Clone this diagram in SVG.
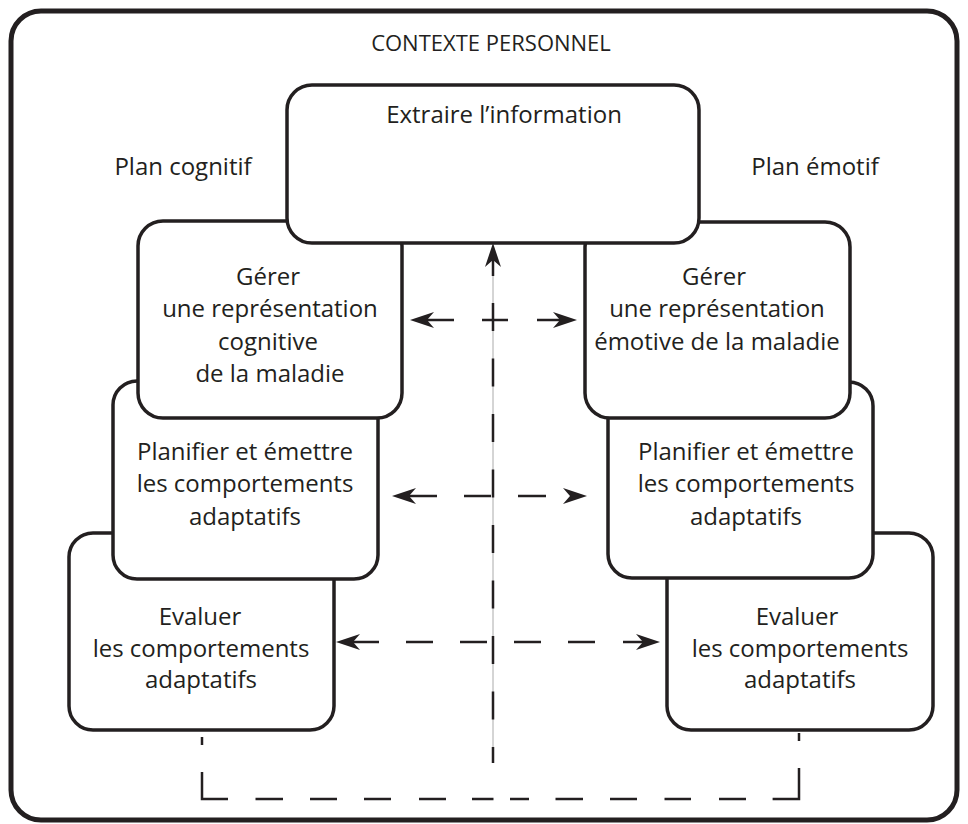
<svg xmlns="http://www.w3.org/2000/svg" width="968" height="824" viewBox="0 0 968 824">
<style>
.box{fill:#fff;stroke:#231f20;stroke-width:3.5}
.t{font-family:"Open Sans","Noto Sans",sans-serif;font-size:24px;fill:#231f20;text-anchor:middle}
.d{stroke:#231f20;stroke-width:2.5;fill:none}
.h{fill:#231f20}
</style>
<rect width="968" height="824" fill="#fff"/>
<rect id="frame" x="11" y="11" width="946" height="809" rx="30" fill="none" stroke="#231f20" stroke-width="5"/>
<text class="t" x="491" y="51" style="font-size:22px">CONTEXTE PERSONNEL</text>
<text class="t" x="183" y="175">Plan cognitif</text>
<text class="t" x="815" y="175">Plan émotif</text>

<g id="eval-left">
<rect class="box" x="69" y="533" width="265" height="197" rx="24"/>
<text class="t" x="200" y="625">Evaluer</text>
<text class="t" x="201" y="657">les comportements</text>
<text class="t" x="201" y="688">adaptatifs</text>
</g>
<g id="eval-right">
<rect class="box" x="667" y="533" width="266" height="197" rx="24"/>
<text class="t" x="797" y="625">Evaluer</text>
<text class="t" x="800" y="657">les comportements</text>
<text class="t" x="800" y="688">adaptatifs</text>
</g>
<g id="plan-left">
<rect class="box" x="113" y="381" width="265" height="198" rx="24"/>
<text class="t" x="245" y="460">Planifier et émettre</text>
<text class="t" x="245" y="492">les comportements</text>
<text class="t" x="245" y="525">adaptatifs</text>
</g>
<g id="plan-right">
<rect class="box" x="608" y="382" width="265" height="196" rx="24"/>
<text class="t" x="746" y="460">Planifier et émettre</text>
<text class="t" x="746" y="492">les comportements</text>
<text class="t" x="746" y="525">adaptatifs</text>
</g>
<g id="gerer-left">
<rect class="box" x="138" y="221" width="264" height="197" rx="25"/>
<text class="t" x="268" y="285">Gérer</text>
<text class="t" x="270" y="317">une représentation</text>
<text class="t" x="268" y="350">cognitive</text>
<text class="t" x="270" y="382">de la maladie</text>
</g>
<g id="gerer-right">
<rect class="box" x="585" y="222" width="265" height="196" rx="25"/>
<text class="t" x="714" y="285">Gérer</text>
<text class="t" x="717" y="317">une représentation</text>
<text class="t" x="717" y="350">émotive de la maladie</text>
</g>
<g id="extraire">
<rect class="box" x="287" y="85" width="412" height="158" rx="25"/>
<text class="t" x="504" y="123">Extraire l’information</text>
</g>

<g id="connectors">
<line x1="493" y1="250" x2="493" y2="763" stroke="#aaa" stroke-width="1"/>
<line class="d" x1="493" y1="260" x2="493" y2="276"/>
<polygon class="h" points="493,243 485,267 493,260 501,267"/>
<line class="d" x1="493" y1="303" x2="493" y2="763" stroke-dasharray="28 27.5"/>

<polygon class="h" points="410,320 434,312 427,320 434,328"/>
<line class="d" x1="427" y1="320" x2="454" y2="320"/>
<line class="d" x1="482" y1="320" x2="508" y2="320"/>
<line class="d" x1="537" y1="320" x2="560" y2="320"/>
<polygon class="h" points="577,320 553,312 560,320 553,328"/>

<polygon class="h" points="392,496 416,488 409,496 416,504"/>
<line class="d" x1="409" y1="496" x2="437" y2="496"/>
<line class="d" x1="464" y1="496" x2="491" y2="496"/>
<line class="d" x1="518" y1="496" x2="546" y2="496"/>
<polygon class="h" points="587,496 563,488 570,496 563,504"/>

<polygon class="h" points="336,642 360,634 353,642 360,650"/>
<line class="d" x1="353" y1="642" x2="379" y2="642"/>
<line class="d" x1="406" y1="642" x2="433" y2="642"/>
<line class="d" x1="460" y1="642" x2="487" y2="642"/>
<line class="d" x1="514" y1="642" x2="541" y2="642"/>
<line class="d" x1="568" y1="642" x2="595" y2="642"/>
<line class="d" x1="623" y1="642" x2="643" y2="642"/>
<polygon class="h" points="660,642 636,634 643,642 636,650"/>

<line class="d" x1="202" y1="737" x2="202" y2="745"/>
<polyline class="d" points="202,772 202,799 228,799"/>
<line class="d" x1="255.5" y1="799" x2="283" y2="799"/>
<line class="d" x1="310" y1="799" x2="337" y2="799"/>
<line class="d" x1="364" y1="799" x2="391" y2="799"/>
<line class="d" x1="419" y1="799" x2="446" y2="799"/>
<line class="d" x1="472" y1="799" x2="493.5" y2="799"/>
<line class="d" x1="510" y1="799" x2="529" y2="799"/>
<line class="d" x1="555.5" y1="799" x2="583" y2="799"/>
<line class="d" x1="610" y1="799" x2="637" y2="799"/>
<line class="d" x1="664.5" y1="799" x2="691" y2="799"/>
<line class="d" x1="719" y1="799" x2="746" y2="799"/>
<polyline class="d" points="772.6,799 799,799 799,768"/>
<line class="d" x1="799" y1="733" x2="799" y2="741"/>
</g>
</svg>
